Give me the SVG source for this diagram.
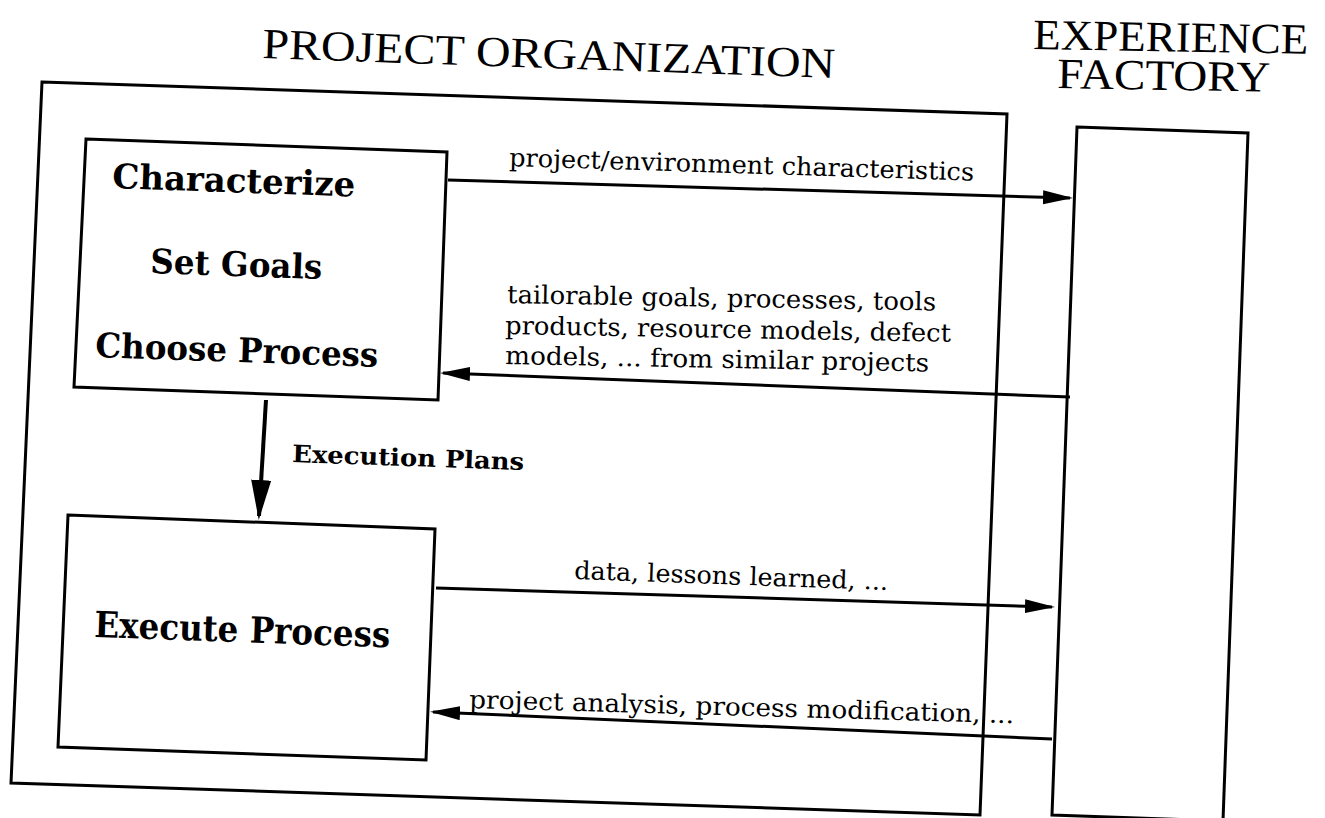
<svg xmlns="http://www.w3.org/2000/svg" width="1325" height="818" viewBox="0 0 1325 818">
  <style>
    .box { fill: none; stroke: #000; stroke-width: 3; stroke-linejoin: miter; }
    .title { font-family: "Liberation Serif", "DejaVu Serif", serif; font-size: 43px; fill: #000; }
    .node { font-family: "DejaVu Serif", "Liberation Serif", serif; font-weight: bold; font-size: 34px; fill: #000; }
    .lbl { font-family: "DejaVu Serif", "Liberation Serif", serif; font-size: 25px; fill: #000; }
    .lblb { font-family: "DejaVu Serif", "Liberation Serif", serif; font-weight: bold; font-size: 24px; fill: #000; }
    .conn { fill: none; stroke: #000; stroke-width: 3; }
    .connv { fill: none; stroke: #000; stroke-width: 4; }
  </style>
  <defs>
    <marker id="ah" markerUnits="userSpaceOnUse" markerWidth="32" markerHeight="16" refX="27" refY="7" orient="auto">
      <path d="M0,0 L30,7 L0,14 z" fill="#000"/>
    </marker>
    <marker id="ahv" markerUnits="userSpaceOnUse" markerWidth="42" markerHeight="22" refX="36" refY="10" orient="auto">
      <path d="M0,0 L40,10 L0,20 z" fill="#000"/>
    </marker>
  </defs>
  <rect width="1325" height="818" fill="#fff"/>

  <g id="project-organization">
    <polygon class="box" points="42,82 1007,114 980,815 11,783"/>
    <text class="title" x="262" y="58" textLength="573" lengthAdjust="spacingAndGlyphs" transform="rotate(2 262 58)">PROJECT ORGANIZATION</text>
  </g>

  <g id="characterize-node">
    <polygon class="box" points="86,139 447,152 438,400 74,387"/>
    <text class="node" x="112" y="188" textLength="243" lengthAdjust="spacingAndGlyphs" transform="rotate(2 112 188)">Characterize</text>
    <text class="node" x="150" y="273" textLength="172" lengthAdjust="spacingAndGlyphs" transform="rotate(2 150 273)">Set Goals</text>
    <text class="node" x="95" y="357" textLength="283" lengthAdjust="spacingAndGlyphs" transform="rotate(2 95 357)">Choose Process</text>
  </g>

  <g id="execute-node">
    <polygon class="box" points="68,515 435,529 426,760 58,747"/>
    <text class="node" x="94" y="637" textLength="296" lengthAdjust="spacingAndGlyphs" transform="rotate(2 94 637)" style="font-size:36px">Execute Process</text>
  </g>

  <g id="experience-factory">
    <polygon class="box" points="1077,127 1248,133 1223,821 1052,815"/>
    <text class="title" x="1033" y="49" textLength="275" lengthAdjust="spacingAndGlyphs" transform="rotate(1 1033 49)">EXPERIENCE</text>
    <text class="title" x="1057" y="88" textLength="213" lengthAdjust="spacingAndGlyphs" transform="rotate(1 1057 88)">FACTORY</text>
  </g>

  <g id="connectors">
    <line class="conn" x1="448" y1="180" x2="1070" y2="198" marker-end="url(#ah)"/>
    <text class="lbl" x="509" y="166" textLength="465" lengthAdjust="spacingAndGlyphs" transform="rotate(1.8 509 166)">project/environment characteristics</text>

    <line class="conn" x1="1070" y1="397" x2="443" y2="373" marker-end="url(#ah)"/>
    <text class="lbl" x="507" y="303" textLength="429" lengthAdjust="spacingAndGlyphs" transform="rotate(1 507 303)">tailorable goals, processes, tools</text>
    <text class="lbl" x="505" y="334" textLength="446" lengthAdjust="spacingAndGlyphs" transform="rotate(1 505 334)">products, resource models, defect</text>
    <text class="lbl" x="505" y="364" textLength="424" lengthAdjust="spacingAndGlyphs" transform="rotate(1 505 364)">models, ... from similar projects</text>

    <line class="connv" x1="266" y1="400" x2="259" y2="516" marker-end="url(#ahv)"/>
    <text class="lblb" x="292" y="462" textLength="232" lengthAdjust="spacingAndGlyphs" transform="rotate(2 292 462)">Execution Plans</text>

    <line class="conn" x1="436" y1="588" x2="1052" y2="607" marker-end="url(#ah)"/>
    <text class="lbl" x="574" y="579" textLength="314" lengthAdjust="spacingAndGlyphs" transform="rotate(2 574 579)">data, lessons learned, ...</text>

    <line class="conn" x1="1052" y1="739" x2="433" y2="712" marker-end="url(#ah)"/>
    <text class="lbl" x="469" y="708" textLength="545" lengthAdjust="spacingAndGlyphs" transform="rotate(1.6 469 708)">project analysis, process modification, ...</text>
  </g>
</svg>
